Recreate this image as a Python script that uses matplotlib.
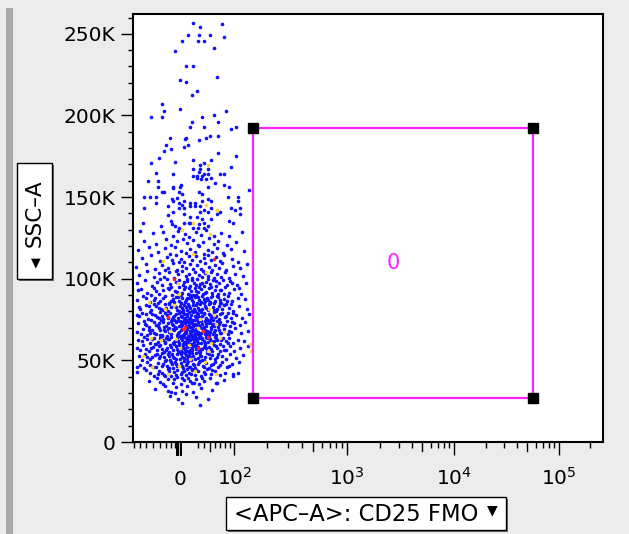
import numpy as np
import matplotlib
matplotlib.use("Agg")
import matplotlib.pyplot as plt
import matplotlib.transforms as mtransforms
from matplotlib.ticker import FixedLocator, FixedFormatter, NullFormatter
from matplotlib.patches import Rectangle

# ---------------- data (APC value, SSC-A in thousands) ----------------
top_events = [
    (22, 256.9), (33.5, 253.9), (74, 255.9), (13, 249.3), (31, 249.3), (50, 249.3), (78, 248.3),
    (4, 245.9), (30, 245.9), (40, 245.9), (57, 241.6), (-7.5, 239.2), (10, 230.3), (22, 230.3),
    (63, 223.8), (0.5, 221.6), (10, 220.5), (28, 215), (19, 212.8), (-29, 207), (-26, 202.8),
    (0.5, 204), (81, 203), (-48, 199.3), (-29, 199.3), (37, 199.3), (57, 200.5), (19, 196.3),
    (66, 196.3), (16, 193), (40, 193), (93, 191.7), (105, 193), (50, 187.3), (43, 186.5),
    (66, 187.3), (-16.5, 186.2), (7.5, 185.6), (10, 186.5), (31, 185.2), (-22.5, 181.7),
    (-14, 179.7), (12.5, 181.7), (6.5, 180.7), (-26, 178.5), (66, 177.3), (-35, 174), (105, 175.2),
    (-7.5, 171.7), (22, 173), (53, 173), (-48, 170.7), (33.5, 169.7), (40, 170.7), (93, 168.4),
    (-40, 165), (22, 167.5), (33.5, 167.5), (47, 167.5), (31, 165.2), (40, 164), (47, 164),
    (-11.5, 164), (22, 162.9), (28, 162.9), (37, 162.9), (70, 164.2), (78, 164.2), (-54, 159.7),
    (-37, 159.7), (28, 162), (34, 160.9), (44, 160.9), (52, 162), (60, 158.6), (78, 157.7),
    (89, 156.4), (-11, 156.4), (1, 157.7), (-11, 155.4), (0.5, 156.4), (47, 156.4), (139, 154.2),
    (-37, 156.4), (-29, 153.1), (-26, 153.1), (-2, 153.1), (4, 152.1), (31, 153.1), (36, 152.1),
    (85, 149.9), (110, 149.9), (-61, 149.9), (-51, 149.9), (-40, 149.9), (-13.5, 148.7), (-5, 149.7),
    (-11, 147.6), (-2, 146.6), (6.5, 147.6), (16, 146.6), (25, 146.6), (37, 147.6), (47, 148.7),
    (53, 147.6), (110, 147.6), (-61, 143.1), (-40, 146.6), (-19, 144.4), (4, 145.4), (-2, 143.1),
    (7, 143.1), (16, 144.4), (25, 144.4), (33.5, 144.4), (40, 141.9), (33.5, 140.9), (47, 140.9),
    (53, 143.1), (70, 140.9), (93, 143.1), (102, 141.9), (115, 143.1), (-64, 134.4), (-19, 138.9),
    (-11, 140.9), (6.5, 139.9), (16, 137.6), (28, 137.6), (36, 136.6), (53, 136.6), (63, 139.9),
    (115, 139.9), (89, 135.4), (97, 134.4), (-31, 132.3), (-14, 135.4), (-13.5, 133.3), (6.5, 134.4),
    (14, 134.4), (16.5, 134.4), (31, 133.3), (40, 134.4), (-8, 132.3), (-2, 131.3), (22, 131.3),
    (30, 131.3), (40, 131.3), (47, 132.3),
]

upper_core_events = [
    (-70, 129.2), (-45, 127.8), (-28, 128.9), (-12, 126.1), (-3, 129.5), (8, 127.3), (15, 125.6),
    (26, 128.4), (35, 126.7), (44, 129.7), (58, 125.9), (72, 127.9), (88, 126.4), (118, 128.6),
    (-62, 123.4), (-40, 121.2), (-22, 124.6), (-14, 120.8), (-5, 122.9), (5, 124.2), (12, 121.6),
    (21, 123.8), (30, 120.4), (38, 122.2), (49, 124.9), (57, 121.1), (66, 123.3), (84, 120.9),
    (104, 122.7),
    (-74, 117.6), (-52, 119.2), (-36, 116.3), (-24, 118.7), (-16, 115.4), (-8, 119.6), (1, 117.1),
    (9, 115.9), (17, 118.3), (24, 116.6), (31, 119.8), (39, 115.2), (46, 117.9), (55, 116.1),
    (63, 119.1), (75, 115.7), (92, 118.2), (125, 116.8),
    (-66, 112.6), (-48, 114.3), (-33, 110.9), (-21, 113.5), (-13, 111.4), (-6, 114.8), (2, 112.2),
    (7, 110.3), (14, 113.9), (19, 111.7), (27, 114.1), (33, 110.6), (40, 112.9), (47, 114.6),
    (53, 111.2), (61, 113.1), (69, 110.8), (78, 114.4), (95, 112.3), (110, 110.5), (-1, 110.2),
    (-77, 107.4), (-58, 109.1), (-42, 105.8), (-30, 108.2), (-19, 106.3), (-11, 109.6), (-4, 105.4),
    (3, 107.9), (10, 106.6), (16, 109.2), (22, 105.9), (28, 108.7), (34, 106.1), (41, 109.8),
    (48, 107.2), (54, 105.3), (60, 108.4), (67, 106.8), (74, 109.4), (82, 105.6), (97, 107.7),
    (114, 106.4), (134, 108.9), (-25, 105.1),
    (-71, 102.3), (-55, 104.6), (-44, 100.8), (-35, 103.4), (-26, 101.2), (-18, 104.1), (-10, 100.5),
    (-3, 102.8), (4, 104.8), (9, 101.7), (15, 103.2), (20, 100.3), (25, 104.3), (31, 102.1),
    (36, 100.9), (42, 103.7), (47, 101.5), (52, 104.4), (58, 100.6), (64, 102.9), (71, 101.3),
    (79, 104.2), (87, 100.2), (101, 103.1), (121, 101.8), (-6, 104.9), (12, 100.1), (38, 104.7),
    (-76, 97.3), (-60, 99.4), (-47, 95.6), (-38, 98.1), (-29, 96.4), (-21, 99.7), (-15, 95.2),
    (-7, 97.8), (-1, 99.1), (5, 96.3), (11, 98.6), (17, 95.8), (23, 97.4), (28, 99.8), (33, 96.7),
    (39, 95.3), (44, 98.3), (50, 96.9), (56, 99.2), (62, 95.5), (68, 97.6), (75, 99.5), (83, 96.1),
    (91, 98.8), (106, 95.9), (130, 97.1), (-33, 99.6), (8, 95.1), (26, 96.2), (46, 99.9),
    (-73, 93.1), (-56, 91.4), (-43, 94.6), (-34, 90.7), (-27, 92.8), (-20, 94.2), (-13, 90.3),
    (-8, 92.3), (-2, 94.8), (3, 91.1), (7, 93.6), (13, 90.9), (18, 92.6), (24, 94.4), (29, 91.7),
    (34, 93.9), (38, 90.4), (43, 92.1), (49, 94.1), (54, 91.3), (59, 93.3), (65, 90.6), (72, 92.9),
    (80, 94.7), (89, 91.5), (99, 93.5), (116, 90.8), (-49, 90.2), (-17, 93.7), (1, 90.1), (21, 90.2),
    (31, 94.9), (112, 94.1),
    (-75, 87.2), (-63, 89.3), (-51, 85.7), (-41, 88.1), (-32, 86.3), (-24, 89.6), (-18, 85.2),
    (-12, 87.5), (-6, 89.1), (-1, 86.4), (4, 88.4), (8, 85.5), (12, 87.9), (16, 89.8), (20, 86.8),
    (24, 88.6), (28, 85.3), (32, 87.2), (36, 89.4), (41, 86.1), (45, 88.2), (50, 85.8), (55, 89.5),
    (60, 86.6), (66, 88.9), (72, 85.1), (78, 87.6), (86, 89.2), (94, 86.2), (108, 88.3), (127, 87.4),
    (-36, 85.4), (-9, 85.9), (14, 88.0), (27, 89.9), (47, 86.9), (63, 89.7),
]

middle_core_events = [
    (-72, 82.6), (-58, 84.1), (-48, 80.7), (-39, 83.2), (-31, 81.4), (-25, 84.6), (-19, 80.3),
    (-14, 82.9), (-9, 84.2), (-4, 81.1), (0, 83.5), (5, 80.6), (9, 82.4), (13, 84.8), (17, 81.9),
    (21, 83.8), (25, 80.4), (29, 82.2), (33, 84.4), (37, 81.3), (42, 83.1), (46, 80.9), (51, 84.9),
    (56, 82.5), (61, 80.2), (67, 83.6), (73, 81.7), (81, 84.3), (88, 82.1), (97, 80.5), (111, 83.4),
    (133, 81.6), (-44, 84.8), (-22, 82.0), (2, 85.0), (19, 80.1), (39, 85.0), (70, 85.0), (-2, 80.0),
    (58, 80.8), (11, 81.0),
    (-76, 77.8), (-65, 79.2), (-54, 75.6), (-46, 78.4), (-38, 76.3), (-33, 79.7), (-27, 75.3),
    (-21, 77.6), (-16, 79.1), (-11, 76.5), (-7, 78.7), (-3, 75.8), (1, 77.3), (5, 79.5), (8, 76.1),
    (12, 78.2), (15, 75.4), (18, 77.9), (22, 79.8), (26, 76.7), (29, 78.5), (33, 75.2), (37, 77.1),
    (40, 79.3), (44, 76.2), (48, 78.1), (52, 75.7), (57, 79.6), (62, 77.4), (67, 75.5), (73, 78.8),
    (79, 76.6), (86, 79.0), (93, 75.9), (104, 77.7), (119, 76.0), (138, 78.3), (-50, 79.9),
    (-30, 77.0), (-13, 75.1), (3, 79.9), (20, 75.0), (35, 79.9), (55, 77.0), (10, 75.0),
    (-74, 72.6), (-62, 74.2), (-52, 70.6), (-44, 73.4), (-37, 71.2), (-31, 74.7), (-26, 70.4),
    (-20, 72.8), (-15, 74.1), (-11, 71.5), (-6, 73.6), (-2, 70.9), (2, 72.3), (6, 74.5), (9, 71.0),
    (13, 73.2), (16, 70.3), (19, 72.9), (23, 74.8), (26, 71.6), (30, 73.5), (33, 70.5), (37, 72.1),
    (41, 74.3), (44, 71.3), (48, 73.1), (52, 70.7), (56, 74.6), (60, 72.4), (65, 70.2), (70, 73.8),
    (76, 71.7), (83, 74.0), (90, 70.8), (99, 72.7), (113, 71.9), (128, 73.3), (-57, 71.9),
    (-34, 73.0), (-17, 70.1), (-9, 74.9), (0, 74.0), (11, 70.0), (21, 71.2), (28, 74.9), (39, 70.2),
    (46, 74.9), (54, 72.0), (63, 74.4), (4, 71.4),
    (-75, 67.4), (-64, 69.1), (-55, 65.7), (-47, 68.3), (-40, 66.2), (-35, 69.6), (-29, 65.4),
    (-24, 67.7), (-19, 69.3), (-14, 66.1), (-10, 68.5), (-5, 65.6), (-1, 67.2), (3, 69.4), (6, 66.3),
    (10, 68.1), (13, 65.2), (17, 67.8), (20, 69.7), (24, 66.6), (27, 68.4), (31, 65.3), (34, 67.0),
    (38, 69.2), (42, 66.4), (45, 68.0), (49, 65.8), (53, 69.5), (58, 67.3), (62, 65.5), (67, 68.7),
    (72, 66.5), (78, 69.0), (85, 65.9), (92, 67.6), (101, 69.8), (116, 66.8), (136, 68.2),
    (-50, 66.9), (-32, 68.8), (-21, 65.1), (-7, 69.9), (8, 67.5), (15, 65.0), (22, 68.9), (29, 66.0),
    (36, 69.9), (47, 67.1), (56, 66.0), (0, 65.1), (18, 66.3), (40, 67.9),
    (-73, 62.4), (-61, 64.3), (-51, 60.7), (-43, 63.6), (-36, 61.3), (-30, 64.8), (-25, 60.5),
    (-19, 62.9), (-14, 64.2), (-10, 61.4), (-5, 63.5), (-1, 60.8), (3, 62.2), (7, 64.6), (10, 61.1),
    (14, 63.3), (17, 60.2), (21, 62.8), (24, 64.9), (28, 61.7), (31, 63.7), (35, 60.4), (39, 62.0),
    (43, 64.4), (46, 61.2), (50, 63.0), (55, 60.9), (59, 64.1), (64, 62.6), (69, 60.3), (75, 63.9),
    (82, 61.8), (89, 64.0), (97, 60.6), (109, 62.5), (124, 61.6), (-56, 63.1), (-39, 60.1),
    (-22, 64.0), (-8, 62.0), (1, 64.9), (12, 62.5), (19, 60.0), (26, 63.0), (33, 64.9), (41, 60.6),
    (48, 64.7), (57, 62.1), (-28, 62.7), (5, 60.1), (37, 63.4),
    (-76, 57.6), (-63, 59.4), (-53, 55.8), (-45, 58.3), (-38, 56.2), (-32, 59.7), (-26, 55.4),
    (-21, 57.7), (-16, 59.3), (-12, 56.4), (-7, 58.5), (-3, 55.6), (1, 57.2), (5, 59.1), (8, 56.3),
    (12, 58.0), (15, 55.2), (19, 57.8), (22, 59.6), (26, 56.7), (29, 58.4), (33, 55.3), (37, 57.1),
    (41, 59.2), (45, 56.0), (49, 58.1), (54, 55.9), (58, 59.5), (63, 57.3), (69, 55.5), (75, 58.7),
    (82, 56.6), (90, 59.0), (100, 55.7), (115, 57.5), (135, 58.9), (-58, 56.9), (-42, 59.9),
    (-29, 57.0), (-18, 55.1), (-9, 59.9), (3, 55.0), (10, 59.8), (17, 56.1), (24, 58.8), (31, 56.0),
    (43, 57.6),
]

lower_core_events = [
    (-72, 52.4), (-60, 54.2), (-50, 50.7), (-42, 53.4), (-35, 51.3), (-29, 54.6), (-23, 50.5),
    (-18, 52.8), (-13, 54.1), (-9, 51.4), (-4, 53.6), (0, 50.8), (4, 52.2), (8, 54.5), (11, 51.0),
    (15, 53.3), (18, 50.3), (22, 52.9), (26, 54.8), (29, 51.6), (33, 53.5), (37, 50.4), (41, 52.1),
    (45, 54.3), (50, 51.2), (55, 53.0), (60, 50.6), (66, 54.0), (73, 52.6), (81, 50.9), (90, 53.8),
    (103, 51.7), (122, 53.1), (-65, 50.2), (-46, 51.9), (-32, 52.7), (-16, 50.1), (-1, 54.9),
    (13, 51.8), (31, 54.9), (39, 50.1),
    (-70, 47.4), (-55, 49.2), (-45, 45.7), (-37, 48.3), (-30, 46.3), (-24, 49.6), (-18, 45.4),
    (-13, 47.8), (-8, 49.3), (-4, 46.4), (1, 48.5), (5, 45.6), (9, 47.2), (13, 49.4), (17, 46.1),
    (21, 48.0), (25, 45.3), (29, 47.7), (33, 49.8), (38, 46.6), (43, 48.4), (48, 45.2), (53, 47.0),
    (59, 49.1), (66, 46.0), (74, 48.7), (83, 45.9), (95, 47.5), (112, 49.0), (-61, 45.2), (-27, 47.9),
    (-11, 45.1), (7, 49.9), (19, 45.0),
    (-76, 42.6), (-57, 44.1), (-44, 40.6), (-34, 43.4), (-26, 41.2), (-20, 44.6), (-14, 40.4),
    (-9, 42.8), (-4, 44.2), (2, 41.4), (6, 43.6), (10, 40.8), (15, 42.3), (20, 44.4), (24, 41.1),
    (29, 43.3), (34, 40.5), (39, 42.9), (45, 44.8), (52, 41.7), (60, 43.5), (69, 40.9), (80, 42.1),
    (98, 41.6), (-50, 42.0), (89, 46.5), (110, 42.0), (98, 40.4), (-76, 46.1),
    (-52, 37.4), (-38, 39.1), (-27, 35.7), (-19, 38.3), (-12, 36.2), (-5, 39.6), (1, 35.4),
    (7, 37.7), (13, 39.3), (19, 36.4), (26, 38.5), (32, 35.6), (40, 37.2), (50, 39.4), (62, 36.1),
    (78, 38.0), (-24, 40.4), (-36, 41.4), (64, 36.3),
    (-41, 32.6), (-25, 34.2), (-14, 30.7), (-6, 33.4), (4, 31.3), (12, 34.6), (22, 30.5),
    (35, 32.8), (55, 31.7), (-20, 31.0), (-8, 29.8),
    (-16, 28.3), (-3, 26.2), (10, 29.1), (27, 27.4), (47, 26.1), (33, 22.9), (4, 23.8),
]

core_fill_events = [
    (-67, 93.7), (-39, 92.4), (-16, 96.9), (-4, 91.8), (6, 98.2), (14, 94.3), (19, 99.3), (27, 92.7),
    (36, 97.1), (41, 91.2), (53, 95.2), (61, 98.4), (69, 93.4), (77, 90.9), (95, 97.5),
    (-58, 87.9), (-44, 86.9), (-27, 88.4), (-14, 86.1), (-3, 88.9), (2, 85.3), (10, 86.7), (18, 88.8),
    (22, 85.9), (30, 89.1), (34, 86.0), (39, 87.8), (52, 88.6), (57, 85.4), (70, 87.1), (83, 86.4),
    (-69, 81.2), (-52, 83.6), (-35, 82.3), (-28, 80.9), (-17, 84.4), (-6, 82.6), (3, 81.9), (7, 84.1),
    (15, 83.0), (23, 81.2), (27, 84.1), (31, 80.7), (44, 82.0), (49, 84.3), (64, 81.5), (77, 83.9),
    (92, 84.6),
    (-71, 76.9), (-58, 78.2), (-41, 77.6), (-35, 75.9), (-24, 78.9), (-19, 76.1), (-9, 77.2),
    (-1, 79.1), (3, 76.3), (7, 78.4), (11, 76.9), (14, 79.4), (17, 75.8), (24, 77.3), (28, 79.2),
    (31, 76.4), (39, 78.6), (43, 75.3), (50, 77.8), (59, 76.7), (70, 78.6), (82, 77.3), (98, 78.8),
    (-60, 72.1), (-49, 74.6), (-40, 71.9), (-28, 73.8), (-22, 70.9), (-13, 72.4), (-8, 70.6),
    (-4, 74.3), (1, 71.1), (4, 73.5), (8, 72.9), (12, 74.2), (15, 71.7), (18, 73.8), (22, 70.8),
    (25, 72.5), (32, 71.8), (35, 74.1), (43, 72.8), (50, 74.2), (58, 70.9), (68, 72.2), (80, 71.4),
    (95, 73.6),
    (-67, 66.1), (-52, 68.6), (-43, 67.0), (-33, 65.8), (-26, 68.9), (-17, 67.3), (-12, 69.1),
    (-3, 66.7), (1, 68.6), (5, 65.4), (9, 67.0), (12, 69.4), (16, 66.5), (19, 68.2), (23, 65.7),
    (26, 69.3), (30, 67.6), (33, 65.9), (41, 68.6), (44, 66.2), (51, 67.4), (60, 68.9), (70, 66.6),
    (88, 68.1),
    (-66, 61.6), (-47, 62.9), (-33, 63.9), (-24, 61.4), (-17, 63.3), (-12, 60.4), (-3, 61.9),
    (2, 63.8), (6, 61.5), (9, 63.7), (13, 60.7), (16, 62.6), (20, 64.3), (23, 61.3), (27, 63.5),
    (30, 60.6), (36, 62.8), (45, 63.9), (53, 61.6), (62, 63.8), (72, 62.2), (86, 60.9),
    (-69, 56.3), (-49, 57.4), (-35, 58.8), (-23, 56.4), (-14, 58.1), (-5, 56.9), (-1, 59.4),
    (6, 57.8), (11, 55.6), (14, 58.7), (20, 56.3), (27, 59.2), (35, 56.7), (40, 58.3), (52, 57.0),
    (61, 58.8), (78, 56.1),
    (-55, 52.1), (-38, 53.9), (-26, 51.9), (-20, 54.2), (-11, 52.3), (-6, 50.9), (2, 53.9), (6, 51.3),
    (10, 53.2), (17, 52.1), (20, 54.5), (24, 51.0), (35, 52.8), (48, 53.6), (63, 51.9),
    (-51, 47.1), (-40, 45.9), (-21, 46.7), (-15, 48.8), (-6, 47.5), (3, 46.8), (11, 48.6), (15, 45.8),
    (23, 46.9), (31, 48.9), (40, 45.9), (56, 48.0), (70, 47.1),
    (-30, 42.2), (-17, 43.4), (-7, 41.3), (4, 42.9), (12, 44.9), (18, 41.8), (26, 44.0), (41, 41.9),
    (55, 44.0),
    (-33, 37.0), (-9, 38.5), (4, 39.0), (16, 37.2), (23, 36.0), (36, 38.9),
]

yellow_events = [
    (47, 169.5), (44, 145.4), (63, 141.9), (22, 134.4), (4, 129.8), (50, 127.6), (-27, 110.8),
    (22, 115.4), (44, 104.1), (-3, 97.6), (-1, 90.4), (-52, 85.7), (-24, 81.7), (-9, 83.7),
    (48, 81.7), (57, 77.6), (62, 72.5), (29, 70), (-49, 63.9), (-31, 62.3), (-6.5, 62.9), (0, 57.8),
    (14.5, 59.2), (52, 60.8), (69, 63.9), (78, 67.3), (-63, 52.6), (-47, 45.9), (-19, 41.8),
    (-1, 46.5), (42, 49), (25, 43.4), (62, 41.4), (141, 59.8), (143, 55.7), (33, 75.1), (16, 50.6),
    (-16, 68), (46, 55.7),
]

red_events = [(58, 112), (-10, 99.6), (-20, 76.5), (5.5, 69), (38, 68), (47, 64.5), (30, 57.8), (8, 70.2)]

gate_apc = [150, 57000]
gate_ssc = [27.0, 192.2]
gate_count = "0"

x_major_ticks = [0, 100, 1000, 10000, 100000]
x_major_labels = [r"$0$", r"$10^{2}$", r"$10^{3}$", r"$10^{4}$", r"$10^{5}$"]
y_major_ticks = [0, 50, 100, 150, 200, 250]
y_major_labels = ["0", "50K", "100K", "150K", "200K", "250K"]

# ---------------- logicle (biexponential) scale ----------------
T_TOP, M_DEC, W_DEC = 262144.0, 4.5, 0.45
LN10 = np.log(10.0)
w_nat, m_nat = W_DEC * LN10, M_DEC * LN10
lo, hi = 1.0001, 20.0
for _ in range(200):
    mid = 0.5 * (lo + hi)
    if 2 * mid * np.log(mid) / (mid + 1) < w_nat:
        lo = mid
    else:
        hi = mid
P = 0.5 * (lo + hi)
A_COEF = T_TOP * np.exp(-(m_nat - w_nat))


def biex(y):
    x = np.asarray(y, dtype=float) * LN10
    d = x - w_nat
    ad = np.abs(d)
    return np.sign(d) * A_COEF * (np.exp(ad) - P * P * np.exp(-ad / P) + P * P - 1)


_grid = np.linspace(-1.0, 6.0, 60001)
_vals = biex(_grid)


def logicle(v):
    return np.interp(np.asarray(v, dtype=float), _vals, _grid)


# ---------------- figure ----------------
W_PX, H_PX = 629, 534
fig = plt.figure(figsize=(W_PX / 100, H_PX / 100), dpi=100, facecolor="#ececec")


def fx(px):
    return px / W_PX


def fy(py):
    return 1 - py / H_PX


# left gray separator bar
fig.add_artist(Rectangle((fx(6), 0), fx(7), fy(8), transform=fig.transFigure,
                         facecolor="#a9a9a9", edgecolor="none"))

ax_l, ax_r, ax_t, ax_b = 133, 602.5, 14, 442
ax = fig.add_axes([fx(ax_l), fy(ax_b), fx(ax_r - ax_l), (ax_b - ax_t) / H_PX])
ax.set_facecolor("white")
ax.set_xscale("function", functions=(logicle, biex))
ax.set_xlim(float(biex(0.0)), T_TOP)
ax.set_ylim(0, 262.144)


def draw_events(events, color, z, ms=2.6):
    xs, ys = zip(*events)
    ax.plot(xs, ys, linestyle="none", marker="o", markersize=ms, markeredgewidth=0,
            color=color, zorder=z)


for ev in (top_events, upper_core_events, middle_core_events, lower_core_events, core_fill_events):
    draw_events(ev, "#1010ff", 2)
draw_events(yellow_events, "#ffd42a", 3)
draw_events(red_events, "#ff2020", 4)

# gate
gx = [gate_apc[0], gate_apc[1], gate_apc[1], gate_apc[0], gate_apc[0]]
gy = [gate_ssc[1], gate_ssc[1], gate_ssc[0], gate_ssc[0], gate_ssc[1]]
ax.plot(gx, gy, color="#ff22ff", linewidth=1.6, zorder=5, solid_joinstyle="miter")
ax.plot(gx[:4], gy[:4], linestyle="none", marker="s", markersize=7, color="black", zorder=6)
cx = float(biex(0.5 * (logicle(gate_apc[0]) + logicle(gate_apc[1]))))
cy = 0.5 * (gate_ssc[0] + gate_ssc[1])
ax.text(cx, cy, gate_count, color="#ff22ff", fontsize=15, ha="center", va="center", zorder=7)

# spines
for s in ax.spines.values():
    s.set_linewidth(1.5)
    s.set_color("black")

# x ticks
ax.xaxis.set_major_locator(FixedLocator(x_major_ticks))
ax.xaxis.set_major_formatter(FixedFormatter(x_major_labels))
x_minor = [-81, -69, -57, -45, -33, -22, -14, -8, 30, 40, 60, 70, 80, 90,
           200, 300, 400, 600, 700, 800, 900, 2000, 3000, 4000, 6000, 7000, 8000, 9000,
           20000, 30000, 40000, 60000, 70000, 80000, 90000, 200000]
ax.xaxis.set_minor_locator(FixedLocator(x_minor))
ax.xaxis.set_minor_formatter(NullFormatter())
ax.tick_params(axis="x", which="major", length=9.5, width=1.0, pad=21.5, labelsize=14.5)
ax.tick_params(axis="x", which="minor", length=4.0, width=1.0)
for lab in ax.get_xticklabels():
    lab.set_verticalalignment("baseline")

blend = mtransforms.blended_transform_factory(ax.transData, ax.transAxes)
med_len = 9.0 / (ax_b - ax_t)
for v in [50, 500, 5000, 50000]:
    ax.plot([v, v], [0, -med_len], transform=blend, color="black", linewidth=1.0, clip_on=False)
for v in [-4.5, -2.5, 2.5]:
    ax.plot([v, v], [0, -12.5 / (ax_b - ax_t)], transform=blend, color="black", linewidth=1.4,
            clip_on=False)

# y ticks
ax.yaxis.set_major_locator(FixedLocator(y_major_ticks))
ax.yaxis.set_major_formatter(FixedFormatter(y_major_labels))
ax.yaxis.set_minor_locator(FixedLocator([v for v in range(10, 261, 10) if v % 50]))
ax.tick_params(axis="y", which="major", length=8.6, width=1.0, pad=4, labelsize=14.5)
ax.tick_params(axis="y", which="minor", length=3.6, width=1.0)


# axis label boxes
def label_box(x0, y0, x1, y1):
    fig.add_artist(Rectangle((fx(x0 + 2), fy(y1 + 2)), fx(x1 - x0), (y1 - y0) / H_PX,
                             transform=fig.transFigure, facecolor="#6a6a6a", edgecolor="none"))
    fig.add_artist(Rectangle((fx(x0), fy(y1)), fx(x1 - x0), (y1 - y0) / H_PX,
                             transform=fig.transFigure, facecolor="white", edgecolor="black",
                             linewidth=1.0))


label_box(17, 163, 52, 279)
fig.text(fx(35), fy(213), "SSC\u2013A", rotation=90, ha="center", va="center", fontsize=15.5)
fig.text(fx(35.5), fy(263), "\u25BC", ha="center", va="center", fontsize=9)

label_box(226, 497, 506, 530)
fig.text(fx(234), fy(514.5), "<APC\u2013A>: CD25 FMO", ha="left", va="center", fontsize=16.3)
fig.text(fx(492), fy(510), "\u25BC", ha="center", va="center", fontsize=10)

fig.savefig("out.png", dpi=100, facecolor=fig.get_facecolor())
